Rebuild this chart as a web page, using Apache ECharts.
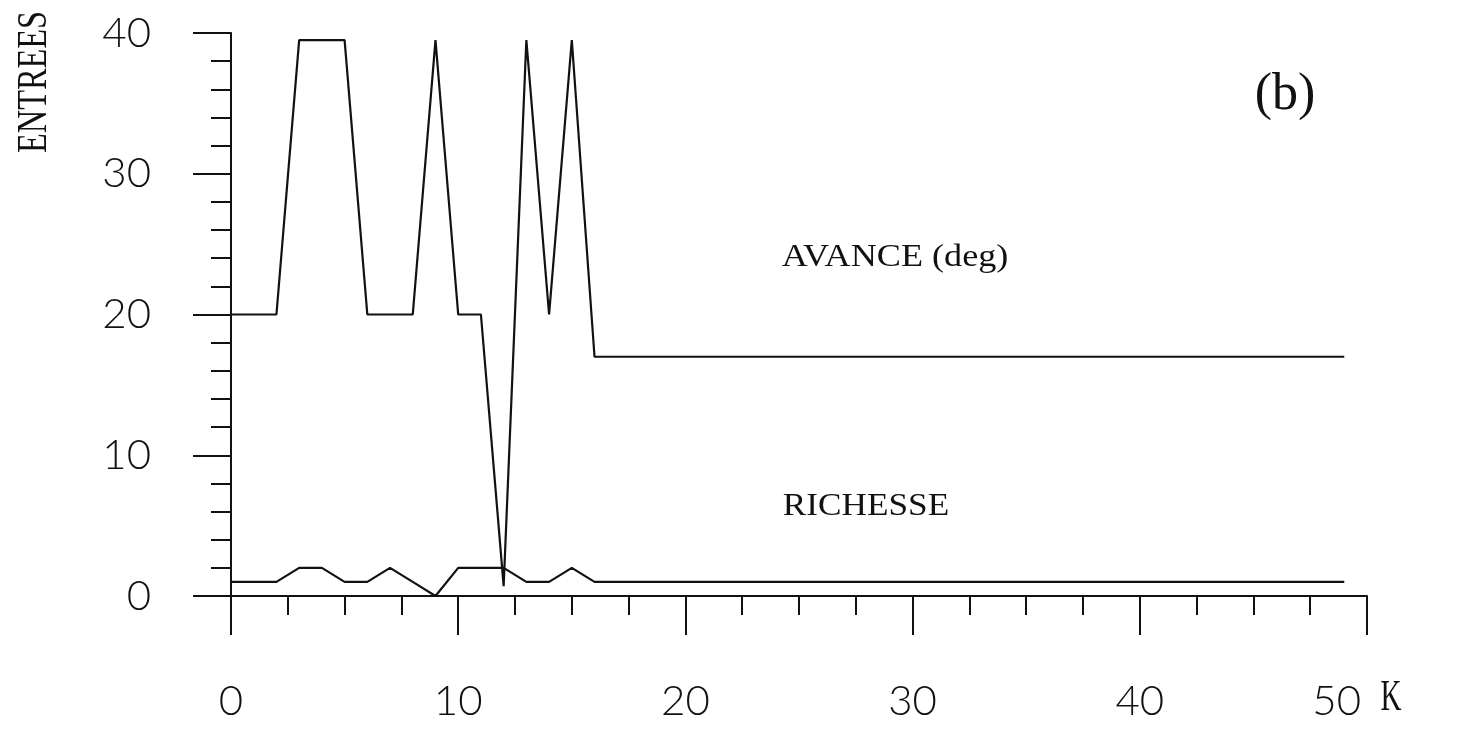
<!DOCTYPE html>
<html>
<head>
<meta charset="utf-8">
<title>ENTREES</title>
<script src="https://cdn.jsdelivr.net/npm/echarts@6/dist/echarts.min.js"></script>
<style>
  html, body { margin: 0; padding: 0; background: #ffffff; }
  #chart { width: 1483px; height: 739px; }
</style>
</head>
<body>
<div id="chart"></div>
<script>
// Engine cycle index K
var kValues = [0, 1, 2, 3, 4, 5, 6, 7, 8, 9,
               10, 11, 12, 13, 14, 15, 16, 17, 18, 19,
               20, 21, 22, 23, 24, 25, 26, 27, 28, 29,
               30, 31, 32, 33, 34, 35, 36, 37, 38, 39,
               40, 41, 42, 43, 44, 45, 46, 47, 48, 49];

// Ignition advance (deg)
var avance = [20, 20, 20, 39.5, 39.5, 39.5, 20, 20, 20, 39.5,
              20, 20, 0.7, 39.5, 20, 39.5, 17, 17, 17, 17,
              17, 17, 17, 17, 17, 17, 17, 17, 17, 17,
              17, 17, 17, 17, 17, 17, 17, 17, 17, 17,
              17, 17, 17, 17, 17, 17, 17, 17, 17, 17];

// Mixture richness
var richesse = [1, 1, 1, 2, 2, 1, 1, 2, 1, 0,
                2, 2, 2, 1, 1, 2, 1, 1, 1, 1,
                1, 1, 1, 1, 1, 1, 1, 1, 1, 1,
                1, 1, 1, 1, 1, 1, 1, 1, 1, 1,
                1, 1, 1, 1, 1, 1, 1, 1, 1, 1];

var xTicks = [0, 10, 20, 30, 40, 50];
var yTicks = [0, 10, 20, 30, 40];

function pairs(xs, ys) {
  return xs.map(function (x, i) { return [x, ys[i]]; });
}

var ink = '#111111';
var tickFont = { fontFamily: 'Lato, "Liberation Sans", sans-serif', fontWeight: 300, fontSize: 42, color: ink };
var serif = '"Liberation Serif", "DejaVu Serif", serif';
var xMax = xTicks[xTicks.length - 1];

var chart = echarts.init(document.getElementById('chart'), null, { renderer: 'canvas' });

chart.setOption({
  backgroundColor: '#ffffff',
  animation: false,
  grid: { left: 231, right: 116, top: 33, bottom: 143, containLabel: false },
  xAxis: {
    type: 'value',
    min: xTicks[0],
    max: xMax,
    interval: 10,
    axisLine: { show: true, onZero: false, lineStyle: { color: ink, width: 2 } },
    axisTick: { show: true, inside: false, length: 39, lineStyle: { color: ink, width: 2 } },
    minorTick: { show: true, splitNumber: 4, length: 19, lineStyle: { color: ink, width: 2 } },
    splitLine: { show: false },
    minorSplitLine: { show: false },
    axisLabel: Object.assign({
      margin: 84,
      alignMaxLabel: 'right',
      // last label sits left of its tick to leave room for the axis name
      formatter: function (v) { return v === xMax ? '{last|' + v + '}' : String(v); },
      rich: { last: Object.assign({ padding: [0, 6, 0, 0] }, tickFont) }
    }, tickFont)
  },
  yAxis: {
    type: 'value',
    min: yTicks[0],
    max: yTicks[yTicks.length - 1],
    interval: 10,
    axisLine: { show: true, lineStyle: { color: ink, width: 2 } },
    axisTick: { show: true, inside: false, length: 38, lineStyle: { color: ink, width: 2 } },
    minorTick: { show: true, splitNumber: 5, length: 20, lineStyle: { color: ink, width: 2 } },
    splitLine: { show: false },
    minorSplitLine: { show: false },
    axisLabel: Object.assign({ margin: 80 }, tickFont)
  },
  series: [
    {
      name: 'AVANCE (deg)',
      type: 'line',
      data: pairs(kValues, avance),
      symbol: 'none',
      lineStyle: { color: ink, width: 2.2 },
      z: 3
    },
    {
      name: 'RICHESSE',
      type: 'line',
      data: pairs(kValues, richesse),
      symbol: 'none',
      lineStyle: { color: ink, width: 2.2 },
      z: 3
    }
  ],
  graphic: [
    {
      type: 'text', x: 35, y: 82, rotation: Math.PI / 2, scaleX: 0.77, scaleY: 1,
      style: { text: 'ENTREES', font: '42px ' + serif, fill: ink, align: 'center', verticalAlign: 'middle' }
    },
    {
      type: 'text', x: 1391, y: 698, scaleX: 0.66, scaleY: 1,
      style: { text: 'K', font: '44px ' + serif, fill: ink, align: 'center', verticalAlign: 'middle' }
    },
    {
      type: 'text', x: 895, y: 258, scaleX: 1.13, scaleY: 1,
      style: { text: 'AVANCE (deg)', font: '32px ' + serif, fill: ink, align: 'center', verticalAlign: 'middle' }
    },
    {
      type: 'text', x: 866, y: 507, scaleX: 1.1, scaleY: 1,
      style: { text: 'RICHESSE', font: '32px ' + serif, fill: ink, align: 'center', verticalAlign: 'middle' }
    },
    {
      type: 'text', x: 1285, y: 95,
      style: { text: '(b)', font: '52px ' + serif, fill: ink, align: 'center', verticalAlign: 'middle' }
    }
  ]
});
</script>
</body>
</html>
